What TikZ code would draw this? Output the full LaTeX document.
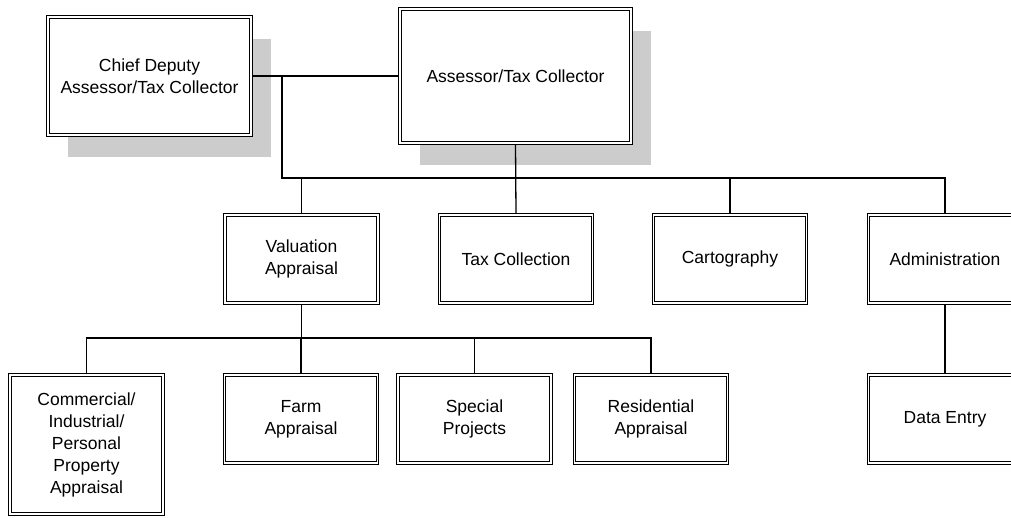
\documentclass[tikz,border=0pt]{standalone}
\usepackage{xcolor}
\usepackage{fontspec}
\setmainfont{Liberation Sans}
\usepackage{tikz}
\usetikzlibrary{shadows}

\begin{document}
\begin{tikzpicture}[x=1pt, y=-1pt,
	unit/.style={draw, double, line width=1.1pt, double distance=1.6pt, fill=white, align=center, outer sep=1.9pt, inner sep=0pt, minimum width=153pt, minimum height=88pt, font=\fontsize{17.5}{22}\selectfont},
	boss/.style={unit, drop shadow={shadow xshift=20pt, shadow yshift=-22pt, draw=none, fill=black!20, opacity=1}},
	link/.style={line width=1.3pt}]
	\clip (0, 0) rectangle (1011, 517);
	\node[boss, minimum width=203pt, minimum height=118pt] (chief) at (149.5, 76) {Chief Deputy\\Assessor/Tax Collector};
	\node[boss, minimum width=231pt, minimum height=134pt] (assessor) at (515.5, 76) {Assessor/Tax Collector};
	\node[unit] (valuation) at (301.5, 259) {Valuation\\Appraisal};
	\node[unit] (taxes) at (516, 259) {Tax Collection};
	\node[unit] (carto) at (730, 259) {Cartography};
	\node[unit] (admin) at (945, 259) {Administration};
	\node[unit, minimum height=139pt] (commercial) at (86.5, 444.5) {Commercial/\\Industrial/\\Personal\\Property\\Appraisal};
	\node[unit] (farm) at (301, 419) {Farm\\Appraisal};
	\node[unit] (special) at (474.5, 419) {Special\\Projects};
	\node[unit] (residential) at (651, 419) {Residential\\Appraisal};
	\node[unit] (dataentry) at (945, 419) {Data Entry};
	\coordinate (upper bus) at (282, 178);
	\coordinate (lower bus) at (87, 338);
	\draw[link] (chief.east) -- (assessor.west);
	\draw[link] (upper bus |- chief.east) -- (upper bus) -| (admin.north);
	\draw[link] (assessor.south) -- (taxes.north);
	\draw[link] (valuation.north) -- (valuation.north |- upper bus);
	\draw[link] (carto.north) -- (carto.north |- upper bus);
	\draw[link] (valuation.south) -- (valuation.south |- lower bus);
	\draw[link] (commercial.north) |- (lower bus -| residential.north) -- (residential.north);
	\draw[link] (farm.north) -- (farm.north |- lower bus);
	\draw[link] (special.north) -- (special.north |- lower bus);
	\draw[link] (admin.south) -- (dataentry.north);
\end{tikzpicture}
\end{document}
